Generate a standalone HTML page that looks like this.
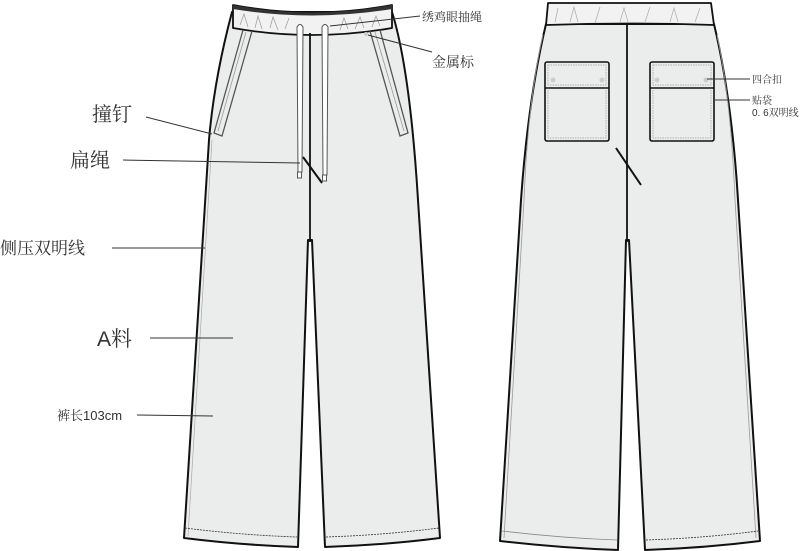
<!DOCTYPE html>
<html><head><meta charset="utf-8"><style>
html,body{margin:0;padding:0;background:#fff;width:800px;height:551px;overflow:hidden}
svg{display:block}
text{font-family:"Liberation Sans","Noto Serif CJK SC",serif;fill:#333}
</style></head><body>
<svg width="800" height="551" viewBox="0 0 800 551" xmlns="http://www.w3.org/2000/svg">
<g stroke="#111" stroke-width="2" fill="#ebedec" stroke-linejoin="round">
<path d="M232,12 Q214,80 209,140 L184,538 Q240,545 298,547 L308,240 L312,240 L325,547 Q385,545 440,538 L418,200 Q410,70 392,12 Z"/>
<path d="M233,5 Q312,20 392,5 L392,28 Q312,42 233,28 Z" fill="#f1f2f1" stroke-width="1.8"/>
<path d="M233,5 Q312,20 392,5 L392,9 Q312,22 233,9 Z" fill="#333" stroke="none"/>
<path d="M546,24 Q528,100 521,200 L500,541 Q560,548 618,550 L626,240 L629,240 L645,550 Q705,548 760,541 L738,200 Q732,100 714,24 Z"/>
<path d="M548,3 L711,3 L714,25 Q630,22 546,25 Z" fill="#f1f2f1" stroke-width="1.8"/>
</g>
<g fill="none" stroke="#111">
<line x1="310" y1="33" x2="310" y2="242" stroke-width="1.8"/>
<line x1="627" y1="24" x2="627" y2="242" stroke-width="1.8"/>
<path d="M303,157 L322,183" stroke-width="2"/>
<path d="M616,148 L641,185" stroke-width="2"/>
<path d="M243,30 L214,133 L222,136 L252,31" stroke-width="1.3" stroke="#555"/>
<path d="M246,32 L218,131" stroke-width="0.8" stroke="#999"/>
<path d="M370,31 L400,136 L408,133 L380,30" stroke-width="1.3" stroke="#555"/>
<path d="M375,32 L404,131" stroke-width="0.8" stroke="#999"/>
<path d="M212,140 L188,536" stroke="#aaa" stroke-width="0.7"/>
<path d="M524,200 L504,538" stroke="#999" stroke-width="0.8"/>
<path d="M735,200 L756,538" stroke="#999" stroke-width="0.8"/>
<path d="M543,35 Q528,100 524,200" stroke="#999" stroke-width="0.8"/>
<path d="M717,35 Q731,100 735,200" stroke="#999" stroke-width="0.8"/>
<path d="M185,528 Q240,535 297,537" stroke="#333" stroke-width="0.8" stroke-dasharray="2,1"/>
<path d="M326,537 Q385,535 439,528" stroke="#333" stroke-width="0.8" stroke-dasharray="2,1"/>
<path d="M502,531 Q560,538 617,540" stroke="#888" stroke-width="0.8"/>
<path d="M646,540 Q705,538 758,531" stroke="#333" stroke-width="0.8" stroke-dasharray="2,1"/>
<path d="M240,25 L244,14 L248,27 M255,28 L258,16 L262,29 M270,28 L273,17 L278,30 M285,29 L289,18 M340,30 L344,18 L348,29 M355,29 L360,17 L364,28 M372,27 L376,16 L380,26" stroke="#999" stroke-width="0.7"/>
<path d="M555,22 L558,8 M570,22 L574,7 L578,22 M595,23 L600,7 M620,22 L624,8 L628,22 M645,22 L650,7 M670,22 L674,8 L678,22 M695,22 L700,8" stroke="#aaa" stroke-width="0.7"/>
</g>
<g fill="#fff" stroke="#555" stroke-width="1">
<path d="M297,27 Q300,22 303,27 L302,172 L298,172 Z"/>
<path d="M322,27 Q325,22 328,27 L327,175 L323,175 Z"/>
<rect x="297.5" y="172" width="4" height="6"/>
<rect x="322.5" y="175" width="4" height="6"/>
</g>
<circle cx="366" cy="34" r="2" fill="#ccc"/>
<g stroke="#111" stroke-width="1.6" fill="#ebedec">
<rect x="545" y="62" width="64" height="79" rx="2"/>
<rect x="650" y="62" width="64" height="79" rx="2"/>
<line x1="545" y1="88" x2="609" y2="88"/>
<line x1="650" y1="88" x2="714" y2="88"/>
</g>
<g fill="none" stroke="#999" stroke-width="0.7" stroke-dasharray="1.5,1">
<rect x="548" y="65" width="58" height="20"/>
<rect x="653" y="65" width="58" height="20"/>
<path d="M548,90 L548,138 L606,138 L606,90"/>
<path d="M653,90 L653,138 L711,138 L711,90"/>
</g>
<g fill="#ccc"><circle cx="553" cy="80" r="2.5"/><circle cx="602" cy="80" r="2.5"/><circle cx="657" cy="80" r="2.5"/><circle cx="706" cy="80" r="2.5"/></g>
<g stroke="#333" stroke-width="1" fill="none">
<line x1="146" y1="117" x2="212" y2="134"/>
<line x1="123" y1="160" x2="300" y2="163"/>
<line x1="112" y1="248" x2="205" y2="248"/>
<line x1="150" y1="338" x2="233" y2="338"/>
<line x1="137" y1="415" x2="213" y2="416"/>
<line x1="330" y1="26" x2="420" y2="16"/>
<line x1="368" y1="35" x2="432" y2="52"/>
<line x1="707" y1="79" x2="750" y2="79"/>
<line x1="715" y1="100" x2="750" y2="100"/>
</g>
<text x="92" y="121" font-size="20">撞钉</text>
<text x="70" y="167" font-size="20">扁绳</text>
<text x="0" y="254" font-size="17">侧压双明线</text>
<text x="97" y="346" font-size="21">A料</text>
<text x="57" y="420" font-size="13">裤长103cm</text>
<text x="422" y="21" font-size="12">绣鸡眼抽绳</text>
<text x="432" y="67" font-size="14">金属标</text>
<text x="752" y="83" font-size="10">四合扣</text>
<text x="752" y="104" font-size="10">贴袋</text>
<text x="752" y="116" font-size="10">0. 6双明线</text>
</svg>
</body></html>
